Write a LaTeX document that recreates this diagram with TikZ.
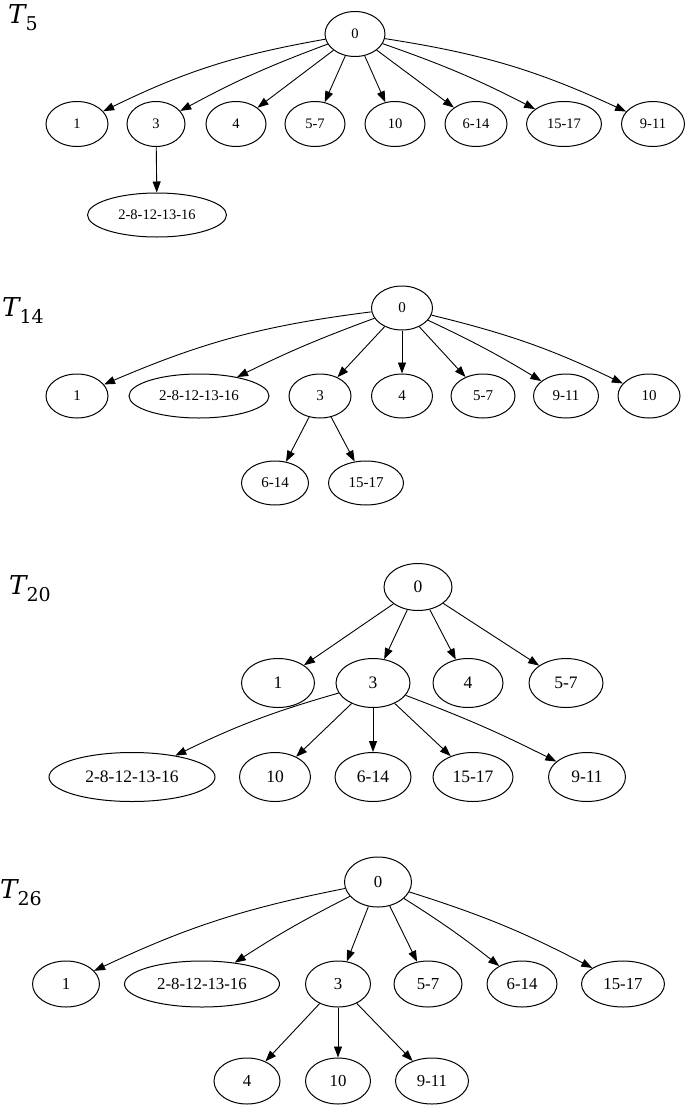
\documentclass[tikz,border=0pt]{standalone}
\usepackage{fontspec}
\setmainfont{Liberation Serif}
\newfontfamily\titlefont{DejaVu Serif}
\usetikzlibrary{shapes.geometric,arrows.meta}

\newcommand{\treename}[1]{{\fontsize{26}{26}\selectfont\itshape T}\raisebox{-7pt}{\fontsize{19}{19}\selectfont #1}}

\begin{document}
\begin{tikzpicture}[x=1pt, y=-1pt,
    tn/.style={ellipse, draw, line width=1pt, inner sep=0pt, minimum width=60pt, minimum height=45pt},
    arr/.style={line width=0.9pt, -{Triangle[length=11pt,width=8pt]}},
    title/.style={anchor=base west, inner sep=0pt, font=\titlefont}]
    \useasboundingbox (0,0) rectangle (685,1108);

    % T_5
    \node[title] (h5) at (8,24) {\treename{5}};
    \begin{scope}[nodes={font=\fontsize{14.5}{15}\selectfont}]
        \node[tn] (u0) at (355,34) {0};
        \node[tn, minimum width=62pt] (u1) at (77,124) {1};
        \node[tn, minimum width=58pt] (u3) at (156,124) {3};
        \node[tn] (u4) at (236,124) {4};
        \node[tn] (u57) at (315,124) {5-7};
        \node[tn] (u10) at (395,124) {10};
        \node[tn, minimum width=62pt] (u614) at (476,124) {6-14};
        \node[tn, minimum width=75pt] (u1517) at (564,124) {15-17};
        \node[tn, minimum width=63pt] (u911) at (653,124) {9-11};
        \node[tn, minimum width=139pt, minimum height=44pt] (u2) at (157,215) {2-8-12-13-16};
    \end{scope}
    \draw[arr] (u0) to[bend right=8] (u1);
    \draw[arr] (u0) to[bend right=4] (u3);
    \foreach \c in {u4, u57, u10, u614}
        \draw[arr] (u0) -- (\c);
    \draw[arr] (u0) to[bend left=4] (u1517);
    \draw[arr] (u0) to[bend left=8] (u911);
    \draw[arr] (u3) -- (u2);

    % T_14
    \node[title] (h14) at (2,316) {\treename{14}};
    \begin{scope}[nodes={font=\fontsize{15}{16}\selectfont}, tn/.append style={minimum height=44pt}]
        \node[tn, minimum width=61pt] (v0) at (402,308) {0};
        \node[tn, minimum width=62pt] (v1) at (77,396) {1};
        \node[tn, minimum width=140pt] (v2) at (199,396) {2-8-12-13-16};
        \node[tn, minimum width=62pt] (v3) at (320,396) {3};
        \node[tn, minimum width=61pt] (v4) at (402,396) {4};
        \node[tn, minimum width=64pt] (v57) at (483,396) {5-7};
        \node[tn, minimum width=65pt] (v911) at (566,396) {9-11};
        \node[tn, minimum width=62pt] (v10) at (649,396) {10};
        \node[tn, minimum width=67pt] (v614) at (275,483) {6-14};
        \node[tn, minimum width=75pt] (v1517) at (366,483) {15-17};
    \end{scope}
    \draw[arr] (v0) to[bend right=8] (v1);
    \draw[arr] (v0) to[bend right=3] (v2);
    \foreach \c in {v3, v4, v57}
        \draw[arr] (v0) -- (\c);
    \draw[arr] (v0) to[bend left=3] (v911);
    \draw[arr] (v0) to[bend left=6] (v10);
    \draw[arr] (v3) -- (v614);
    \draw[arr] (v3) -- (v1517);

    % T_20
    \node[title] (h20) at (9,594) {\treename{20}};
    \begin{scope}[nodes={font=\fontsize{17.5}{18}\selectfont}, tn/.append style={minimum height=49pt, minimum width=73pt}]
        \node[tn, minimum width=68pt, minimum height=47pt] (w0) at (418,587) {0};
        \node[tn] (w1) at (278,683) {1};
        \node[tn, minimum width=74pt] (w3) at (373,683) {3};
        \node[tn, minimum width=70pt] (w4) at (468,683) {4};
        \node[tn, minimum width=74pt] (w57) at (566,683) {5-7};
        \node[tn, minimum width=166pt] (w2) at (132,777) {2-8-12-13-16};
        \node[tn, minimum width=71pt] (w10) at (275,777) {10};
        \node[tn, minimum width=76pt] (w614) at (373,777) {6-14};
        \node[tn, minimum width=80pt] (w1517) at (473,777) {15-17};
        \node[tn, minimum width=77pt] (w911) at (587,777) {9-11};
    \end{scope}
    \foreach \c in {w1, w3, w4, w57}
        \draw[arr] (w0) -- (\c);
    \draw[arr] (w3) to[bend right=5] (w2);
    \foreach \c in {w10, w614, w1517}
        \draw[arr] (w3) -- (\c);
    \draw[arr] (w3) to[bend left=3] (w911);

    % T_26
    \node[title] (h26) at (0,898) {\treename{26}};
    \begin{scope}[nodes={font=\fontsize{16.8}{17}\selectfont}, tn/.append style={minimum height=46pt, minimum width=66pt}]
        \node[tn, minimum width=67pt, minimum height=50pt] (z0) at (378,882) {0};
        \node[tn, minimum width=67pt] (z1) at (66,984) {1};
        \node[tn, minimum width=155pt] (z2) at (202,984) {2-8-12-13-16};
        \node[tn, minimum width=65pt] (z3) at (338,984) {3};
        \node[tn, minimum width=68pt] (z57) at (428,984) {5-7};
        \node[tn, minimum width=70pt] (z614) at (522,984) {6-14};
        \node[tn, minimum width=83pt] (z1517) at (623,984) {15-17};
        \node[tn] (z4) at (247,1081) {4};
        \node[tn, minimum width=65pt] (z10) at (338,1081) {10};
        \node[tn, minimum width=73pt] (z911) at (432,1081) {9-11};
    \end{scope}
    \draw[arr] (z0) to[bend right=7] (z1);
    \draw[arr] (z0) to[bend right=3] (z2);
    \foreach \c in {z3, z57}
        \draw[arr] (z0) -- (\c);
    \draw[arr] (z0) to[bend left=3] (z614);
    \draw[arr] (z0) to[bend left=5] (z1517);
    \foreach \c in {z4, z10, z911}
        \draw[arr] (z3) -- (\c);
\end{tikzpicture}
\end{document}
